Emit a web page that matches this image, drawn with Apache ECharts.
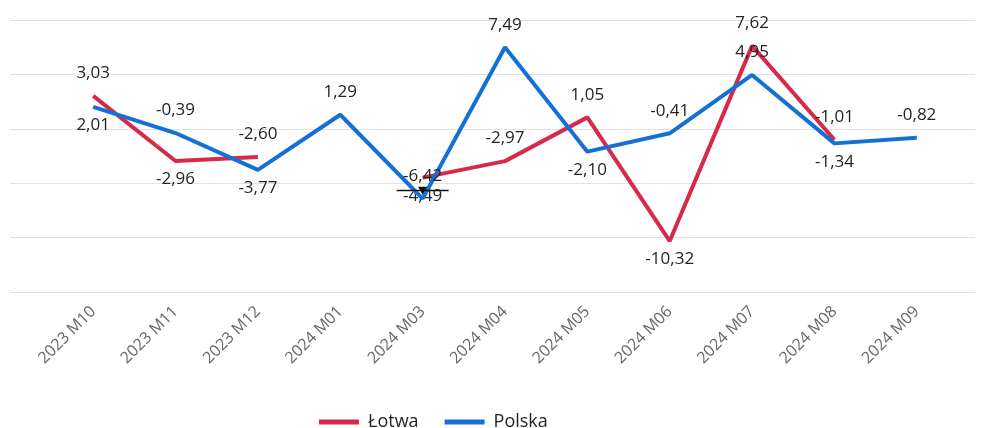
<!DOCTYPE html>
<html>
<head>
<meta charset="utf-8">
<script src="https://cdn.jsdelivr.net/npm/echarts@6/dist/echarts.min.js"></script>
<style>
html,body{margin:0;padding:0;background:#fff;}
#chart{width:985px;height:428px;}
</style>
</head>
<body>
<div id="chart"></div>
<script>
const categories = ['2023 M10','2023 M11','2023 M12','2024 M01','2024 M03','2024 M04','2024 M05','2024 M06','2024 M07','2024 M08','2024 M09'];
const lotwa = [3.03, -2.96, -2.60, null, -4.49, -2.97, 1.05, -10.32, 7.62, -1.01, null];
const polska = [2.01, -0.39, -3.77, 1.29, -6.42, 7.49, -2.10, -0.41, 4.95, -1.34, -0.82];
const yTicks = [-15, -10, -5, 0, 5, 10];

// label placement (above / below)
const lotwaPos = ['top','bottom','top','top','bottom','top','top','bottom','top','top','top'];
const polskaPos = ['bottom','top','bottom','top','top','top','bottom','top','top','bottom','top'];

const RED = '#D7294A';
const BLUE = '#1570D6';
const FONT = 'Segoe UI, "Open Sans", sans-serif';
const fmt = v => v.toFixed(2).replace('.', ',');

function build(vals, pos) {
  return vals.map((v, i) => {
    if (v === null) return null;
    const p = pos[i];
    return {
      value: v,
      label: { position: p, distance: p === 'top' ? 14 : 10 }
    };
  });
}

const chart = echarts.init(document.getElementById('chart'), null, {renderer: 'canvas'});
const yMin = yTicks[0], yMax = yTicks[yTicks.length - 1], yStep = yTicks[1] - yTicks[0];
const labelStyle = {
  show: true,
  fontFamily: FONT,
  fontSize: 17,
  color: '#252423',
  formatter: p => fmt(p.value)
};
const markerIdx = 4;
chart.setOption({
  animation: false,
  backgroundColor: '#fff',
  grid: [
    {left: 52, right: 27, top: 20, bottom: 136},
    {left: 10, right: 10, top: 20, bottom: 136}
  ],
  xAxis: [
    {
      type: 'category', data: categories, gridIndex: 0, boundaryGap: true,
      axisLine: {show: false}, axisTick: {show: false},
      axisLabel: {
        rotate: 45, margin: 17, color: '#666666', fontSize: 16,
        fontFamily: FONT
      }
    },
    {type: 'value', gridIndex: 1, show: false, min: 0, max: 1}
  ],
  yAxis: [
    {type: 'value', gridIndex: 0, min: yMin, max: yMax, interval: yStep, show: false},
    {
      type: 'value', gridIndex: 1, min: yMin, max: yMax, interval: yStep,
      axisLine: {show: false}, axisTick: {show: false}, axisLabel: {show: false},
      splitLine: {show: true, lineStyle: {color: '#E1E1E1', width: 1}}
    }
  ],
  legend: {
    top: 408, left: 314,
    icon: 'rect', itemWidth: 40, itemHeight: 5, itemGap: 26,
    textStyle: {fontSize: 18, color: '#252423', fontFamily: FONT, padding: [0, 0, 0, 4]},
    data: ['Łotwa', 'Polska']
  },
  series: [
    {
      name: 'Łotwa', type: 'line', xAxisIndex: 0, yAxisIndex: 0,
      data: build(lotwa, lotwaPos),
      connectNulls: false, showSymbol: true, symbol: 'circle', symbolSize: 0,
      lineStyle: {color: RED, width: 4},
      itemStyle: {color: RED},
      label: labelStyle,
      labelLayout: {hideOverlap: false},
      z: 2
    },
    {
      name: 'Polska', type: 'line', xAxisIndex: 0, yAxisIndex: 0,
      data: build(polska, polskaPos),
      connectNulls: false, showSymbol: true, symbol: 'circle', symbolSize: 0,
      lineStyle: {color: BLUE, width: 4},
      itemStyle: {color: BLUE},
      label: labelStyle,
      labelLayout: {hideOverlap: false},
      markPoint: {
        silent: true,
        symbol: 'path://M0,3 L52,3 L52,4.6 L0,4.6 Z M21.5,0 L30.5,0 L26,8 Z',
        symbolSize: [52, 8],
        symbolOffset: [0, -8],
        itemStyle: {color: '#111111'},
        label: {show: false},
        data: [{coord: [categories[markerIdx], polska[markerIdx]]}]
      },
      z: 3
    }
  ]
});
</script>
</body>
</html>
